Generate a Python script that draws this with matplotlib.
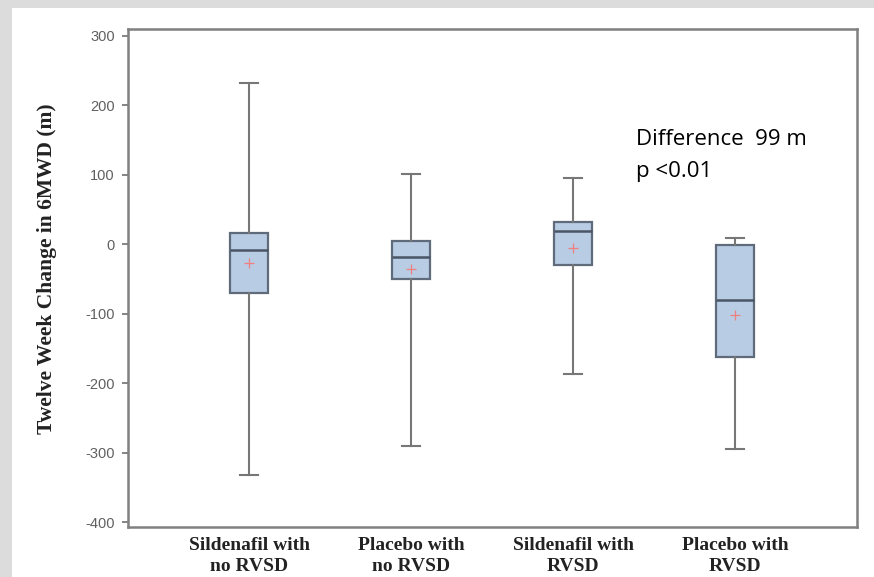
import matplotlib.pyplot as plt
from matplotlib.patches import Rectangle

# group labels and box statistics (m)
groups = ["Sildenafil with\nno RVSD", "Placebo with\nno RVSD",
          "Sildenafil with\nRVSD", "Placebo with\nRVSD"]
whisker_low = [-332, -291, -186, -294]
q1 = [-70, -50, -30, -162]
median = [-8, -18, 19, -80]
q3 = [16, 5, 32, -1]
whisker_high = [232, 101, 95, 9]
mean = [-27, -36, -5, -102]
yticks = [-400, -300, -200, -100, 0, 100, 200, 300]

stats = []
for i in range(len(groups)):
    stats.append(dict(whislo=whisker_low[i], q1=q1[i], med=median[i],
                      q3=q3[i], whishi=whisker_high[i], mean=mean[i],
                      fliers=[]))

fig = plt.figure(figsize=(8.74, 5.77), dpi=100)
fig.patch.set_facecolor("#dcdcdc")
fig.patches.append(Rectangle((12 / 874, 0), 1, 1 - 8 / 577,
                             transform=fig.transFigure,
                             facecolor="white", edgecolor="none", zorder=-10))

ax = fig.add_axes([128 / 874, 50 / 577, 729 / 874, 498 / 577])
ax.bxp(stats, positions=[1, 2, 3, 4], widths=0.235, showmeans=True,
       patch_artist=True, capwidths=0.11,
       boxprops=dict(facecolor="#b8cce4", edgecolor="#5f6b7a", linewidth=1.6),
       medianprops=dict(color="#4a5566", linewidth=1.8),
       whiskerprops=dict(color="#777777", linewidth=1.5),
       capprops=dict(color="#777777", linewidth=1.5),
       meanprops=dict(marker="+", markeredgecolor="#f08080",
                      markersize=6.5, markeredgewidth=0.9))

ax.set_xlim(0.253, 4.753)
ax.set_ylim(-407, 310)
ax.set_yticks(yticks)
ax.set_yticklabels([str(v) for v in yticks], family="Liberation Sans",
                   fontsize=10.5, color="#606060")
ax.set_xticks([1, 2, 3, 4])
ax.set_xticklabels(groups, family="Liberation Serif", fontweight="bold",
                   fontsize=14, color="#222222", linespacing=1.3)
ax.tick_params(axis="x", length=0, pad=7)
ax.tick_params(axis="y", length=4.5, width=1.2, color="#707070", pad=5)
for s in ax.spines.values():
    s.set_color("#808080")
    s.set_linewidth(1.8)

ax.set_ylabel("Twelve Week Change in 6MWD (m)", family="Liberation Serif",
              fontweight="bold", fontsize=15.5, color="#222222")
ax.yaxis.set_label_coords(-0.097, 0.518)

ax.text(0.697, 0.767, "Difference  99 m", transform=ax.transAxes,
        family="Open Sans", fontsize=16, va="baseline", color="black")
ax.text(0.697, 0.703, "p <0.01", transform=ax.transAxes,
        family="Open Sans", fontsize=16, va="baseline", color="black")

fig.savefig("out.png", dpi=100, facecolor=fig.get_facecolor())
